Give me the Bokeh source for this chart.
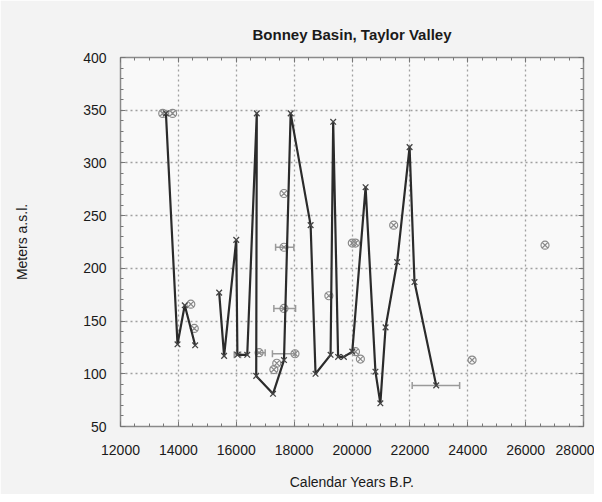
from bokeh.plotting import figure
from bokeh.models import LinearAxis, SingleIntervalTicker, Range1d
from bokeh.embed import file_html
from bokeh.resources import INLINE

# ---- data ----
title_text = "Bonney Basin, Taylor Valley"
x_label = "Calendar Years B.P."
y_label = "Meters a.s.l."

# connected series (two runs)
run1_x = [13570, 13970, 14220, 14580]
run1_y = [347, 128, 165, 127]
run2_x = [15410, 15580, 16000, 16040, 16380, 16710, 16690, 17270, 17650, 17880,
          18570, 18740, 19260, 19350, 19520, 19720, 20010, 20470, 20810, 20980,
          21160, 21560, 21990, 22160, 22910]
run2_y = [177, 117, 227, 118, 118, 347, 98, 81, 113, 347,
          241, 100, 118, 339, 116, 116, 121, 277, 102, 72,
          144, 206, 315, 187, 89]

# isolated samples
pts_x = [13460, 13800, 14430, 14550, 16790, 17300, 17400, 17650, 17650, 17650,
         18030, 19200, 20010, 20120, 20120, 20290, 21440, 24150, 26670]
pts_y = [347, 347, 166, 143, 120, 104, 110, 271, 220, 162,
         119, 174, 224, 224, 121, 114, 241, 113, 222]

# horizontal error bars
err_y = [220, 162, 119, 89, 118, 120]
err_lo = [17360, 17300, 17250, 22080, 15930, 16700]
err_hi = [17990, 18050, 18050, 23720, 16150, 17000]

FONT = "Liberation Sans"

p = figure(width=594, height=494, output_backend="svg", toolbar_location=None,
           x_range=Range1d(12000, 28000), y_range=Range1d(50, 400),
           min_border_left=120, min_border_right=11, min_border_top=57,
           min_border_bottom=68)

p.background_fill_color = "#f9f9f9"
p.border_fill_color = "#f3f3f3"
p.outline_line_color = "#8a8a8a"
p.outline_line_width = 1.5

p.title.text = title_text
p.title.align = "center"
p.title.offset = -5
p.title.standoff = 29
p.title.text_font = FONT
p.title.text_font_size = "15px"
p.title.text_font_style = "bold"
p.title.text_color = "#1a1a1a"

xt = SingleIntervalTicker(interval=2000, num_minor_ticks=4)
yt = SingleIntervalTicker(interval=50, num_minor_ticks=5)

for ax, tk in ((p.xaxis[0], xt), (p.yaxis[0], yt)):
    ax.ticker = tk
    ax.axis_line_color = None
    ax.major_tick_in = 5
    ax.major_tick_out = 0
    ax.minor_tick_in = 3
    ax.minor_tick_out = 0
    ax.major_tick_line_color = "#777777"
    ax.minor_tick_line_color = "#777777"
    ax.major_label_text_font = FONT
    ax.major_label_text_font_size = "14px"
    ax.major_label_text_color = "#1a1a1a"
    ax.axis_label_text_font = FONT
    ax.axis_label_text_font_size = "14px"
    ax.axis_label_text_font_style = "normal"
    ax.axis_label_text_color = "#1a1a1a"

p.xaxis[0].axis_label = x_label
p.yaxis[0].axis_label = y_label
p.xaxis[0].major_label_standoff = 18
p.xaxis[0].axis_label_standoff = 16
p.yaxis[0].major_label_standoff = 14
p.yaxis[0].axis_label_standoff = 50

for side, tk in (("above", xt), ("right", yt)):
    ax = LinearAxis(ticker=tk)
    ax.axis_line_color = None
    ax.major_tick_in = 5
    ax.major_tick_out = 0
    ax.minor_tick_in = 3
    ax.minor_tick_out = 0
    ax.major_tick_line_color = "#777777"
    ax.minor_tick_line_color = "#777777"
    ax.major_label_text_font_size = "1px"
    ax.major_label_text_color = None
    ax.major_label_standoff = 0
    p.add_layout(ax, side)

p.xgrid.ticker = xt
p.ygrid.ticker = yt
for g in (p.xgrid[0], p.ygrid[0]):
    g.grid_line_color = "#a0a0a0"
    g.grid_line_dash = "2 3"
    g.grid_line_width = 1.3

# error bars
p.segment(err_lo, err_y, err_hi, err_y, line_color="#9a9a9a", line_width=1.5)
p.scatter(err_lo, err_y, marker="dash", angle=1.5708, size=7, line_color="#9a9a9a", line_width=1.5)
p.scatter(err_hi, err_y, marker="dash", angle=1.5708, size=7, line_color="#9a9a9a", line_width=1.5)

# isolated samples
p.scatter(pts_x, pts_y, marker="circle_x", size=8, fill_color=None,
          line_color="#8a8a8a", line_width=1.2)

# connected series
for xs, ys in ((run1_x, run1_y), (run2_x, run2_y)):
    p.line(xs, ys, line_color="#2b2b2b", line_width=2.2)
    p.scatter(xs, ys, marker="x", size=8, line_color="#444444", line_width=1.3)

open("out.html", "w").write(file_html(p, INLINE))
